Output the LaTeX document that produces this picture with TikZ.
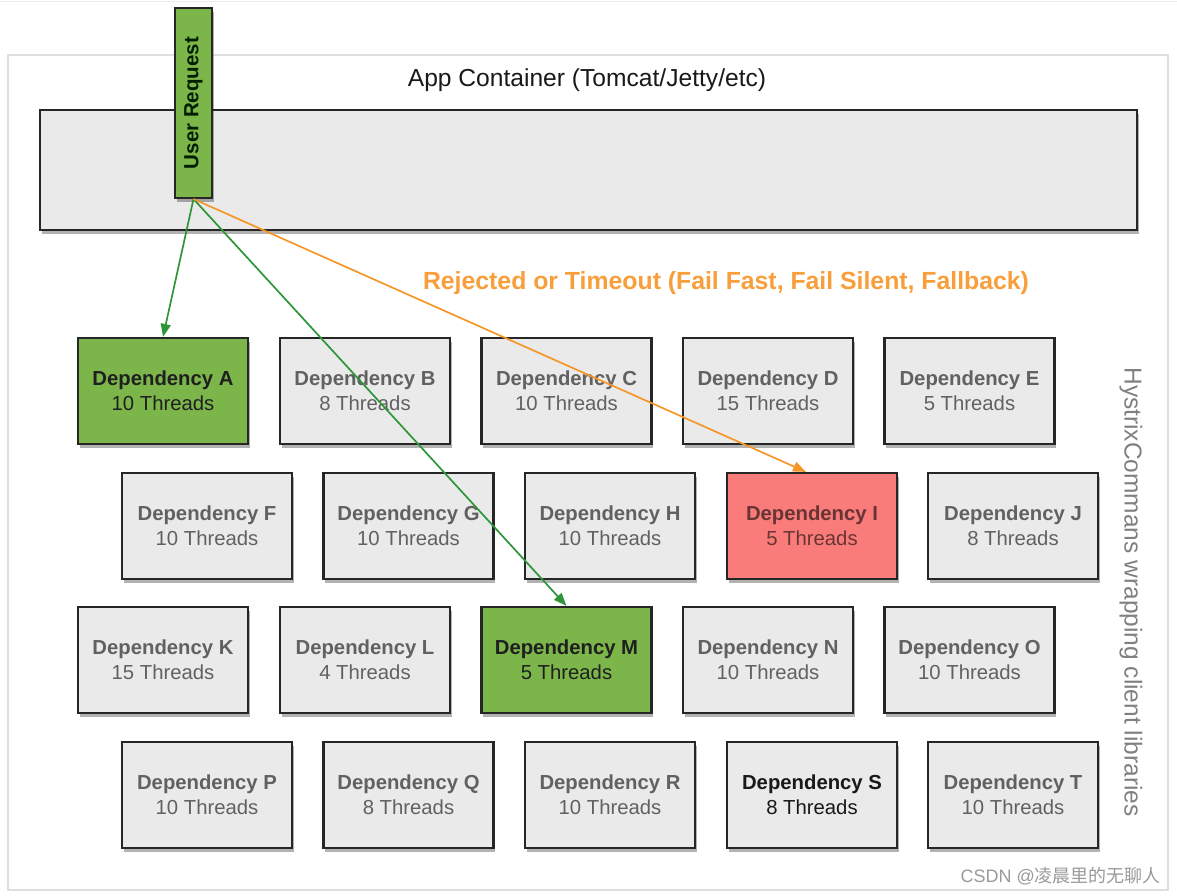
\documentclass[tikz,border=0pt]{standalone}
\usepackage{fontspec}
\setmainfont{Liberation Sans}
\newfontfamily\cjkfont{Noto Sans CJK SC}
\usetikzlibrary{shadows,arrows.meta}
\definecolor{boxgray}{RGB}{234,234,234}
\definecolor{depgreen}{RGB}{124,182,74}
\definecolor{depred}{RGB}{250,124,122}
\definecolor{redtext}{RGB}{105,52,52}
\definecolor{arrgreen}{RGB}{46,150,56}
\definecolor{arrorange}{RGB}{247,150,40}
\definecolor{lblorange}{RGB}{248,158,58}
\begin{document}
\begin{tikzpicture}[x=1pt,y=-1pt,
  boxshadow/.style={drop shadow={shadow xshift=1.5pt,shadow yshift=-4pt,opacity=0.3,fill=black}},
  dep/.style={draw=black!85,line width=2.2pt,fill=boxgray,minimum width=170pt,minimum height=106pt,
    align=center,inner sep=0pt,boxshadow,font=\fontsize{20.3}{25}\selectfont,text=black!62},
  depok/.style={dep,fill=depgreen,text=black!88},
  depbad/.style={dep,fill=depred,text=redtext},
  depdark/.style={dep,text=black!90},
  garrow/.style={draw=arrgreen,line width=1.7pt,-{Triangle[length=13pt,width=10pt]}},
  oarrow/.style={draw=arrorange,line width=1.7pt,-{Triangle[length=13pt,width=10pt]}}]
\useasboundingbox (0,0) rectangle (1177,896);
\draw[gray!15,line width=1pt] (0,2) -- (1177,2);
\draw[gray!25,line width=1.2pt] (8,55) rectangle (1168,890);
\node[font=\fontsize{24.6}{28}\selectfont,text=black!90] (title) at (587,80) {App Container (Tomcat/Jetty/etc)};
\node[draw=black!85,line width=2pt,fill=boxgray,minimum width=1097pt,minimum height=120pt,boxshadow] (app) at (588.5,170) {};
\node[draw=black!85,line width=2pt,fill=depgreen,minimum width=37pt,minimum height=190pt,inner sep=0pt,boxshadow,
  font=\fontsize{20.5}{24}\selectfont\bfseries,text=black!80!green!60!black] (ur) at (193.5,103) {\rotatebox{90}{User Request}};
% row 1
\node[depok] (A) at (163,391) {\textbf{Dependency A}\\10 Threads};
\node[dep] (B) at (365,391) {\textbf{Dependency B}\\8 Threads};
\node[dep] (C) at (566.5,391) {\textbf{Dependency C}\\10 Threads};
\node[dep] (D) at (768,391) {\textbf{Dependency D}\\15 Threads};
\node[dep] (E) at (969.5,391) {\textbf{Dependency E}\\5 Threads};
% row 2
\node[dep] (F) at (207,526) {\textbf{Dependency F}\\10 Threads};
\node[dep] (G) at (408.5,526) {\textbf{Dependency G}\\10 Threads};
\node[dep] (H) at (610,526) {\textbf{Dependency H}\\10 Threads};
\node[depbad] (I) at (812,526) {\textbf{Dependency I}\\5 Threads};
\node[dep] (J) at (1013,526) {\textbf{Dependency J}\\8 Threads};
% row 3
\node[dep] (K) at (163,660) {\textbf{Dependency K}\\15 Threads};
\node[dep] (L) at (365,660) {\textbf{Dependency L}\\4 Threads};
\node[depok] (M) at (566.5,660) {\textbf{Dependency M}\\5 Threads};
\node[dep] (N) at (768,660) {\textbf{Dependency N}\\10 Threads};
\node[dep] (O) at (969.5,660) {\textbf{Dependency O}\\10 Threads};
% row 4
\node[dep] (P) at (207,795) {\textbf{Dependency P}\\10 Threads};
\node[dep] (Q) at (408.5,795) {\textbf{Dependency Q}\\8 Threads};
\node[dep] (R) at (610,795) {\textbf{Dependency R}\\10 Threads};
\node[depdark] (S) at (812,795) {\textbf{Dependency S}\\8 Threads};
\node[dep] (T) at (1013,795) {\textbf{Dependency T}\\10 Threads};
% connectors
\draw[garrow] (ur.south) -- (A.north);
\draw[garrow] (ur.south) -- (M.north);
\draw[oarrow] (ur.south) -- ([xshift=-6pt]I.north);
\node[font=\fontsize{24.8}{28}\selectfont\bfseries,text=lblorange] (rej) at (726,283) {Rejected or Timeout (Fail Fast, Fail Silent, Fallback)};
\node[rotate=-90,font=\fontsize{24.5}{28}\selectfont,text=black!50] (hyx) at (1131,592) {HystrixCommans wrapping client libraries};
\node[anchor=east,font=\fontsize{18}{22}\selectfont,text=black!40,inner sep=0pt] (wm) at (1161,876) {CSDN @{\cjkfont 凌晨里的无聊人}};
\end{tikzpicture}
\end{document}
